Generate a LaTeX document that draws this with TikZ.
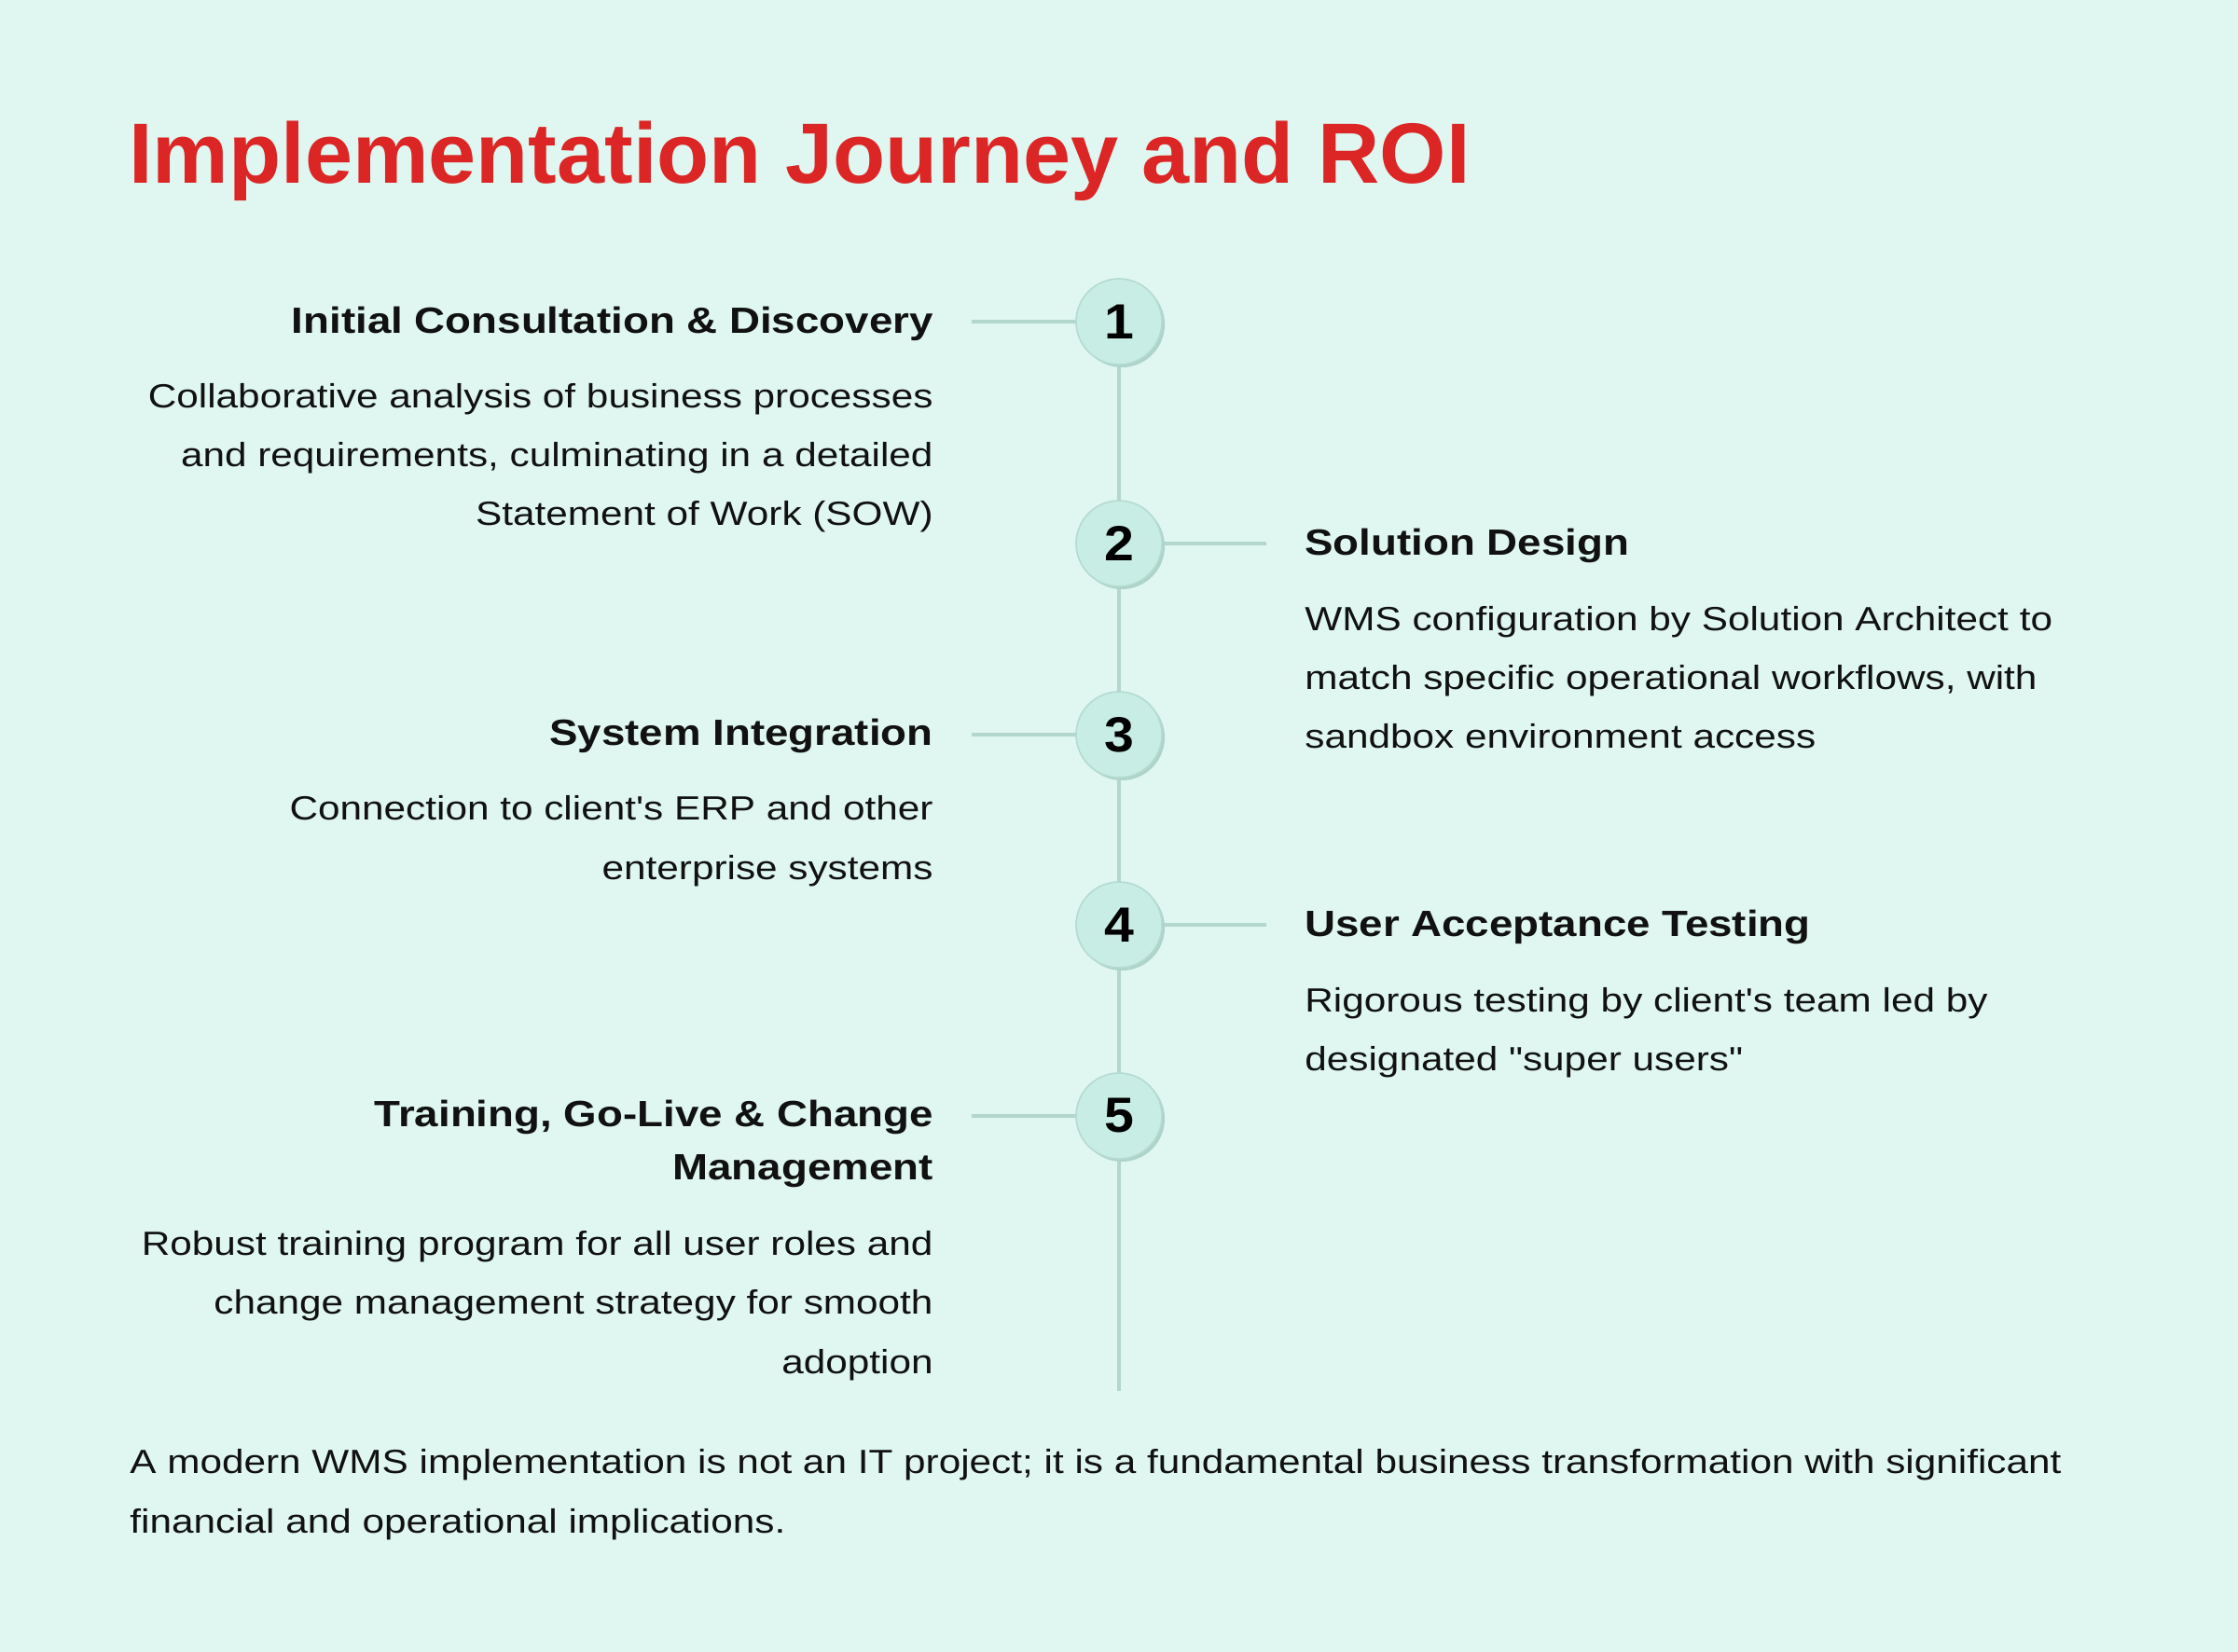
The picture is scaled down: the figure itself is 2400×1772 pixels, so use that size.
\documentclass[tikz,border=0pt]{standalone}
\usepackage{fontspec}
\setmainfont{Liberation Sans}
\newfontfamily\titlefont{Liberation Sans}
\newfontfamily\headfont{Liberation Sans}[FakeStretch=1.165]
\newfontfamily\bodyfont{Liberation Sans}[FakeStretch=1.175]
\newfontfamily\numfont{Liberation Sans}[FakeStretch=1.08]
\definecolor{bgmint}{HTML}{DFF7F0}
\definecolor{titlered}{HTML}{DC2626}
\definecolor{inkdark}{HTML}{111111}
\definecolor{linecol}{HTML}{B3D6CD}
\definecolor{circfill}{HTML}{C8EDE4}
\definecolor{circedge}{HTML}{B5DBD1}
\definecolor{circshadow}{HTML}{AED4CA}
\begin{document}
\begin{tikzpicture}[x=0.5pt,y=-0.5pt,
  titletext/.style={inner sep=0pt, anchor=base west, text=titlered, font=\titlefont\bfseries\fontsize{45.9}{55}\selectfont},
  headtext/.style={inner sep=0pt, text=inkdark, font=\headfont\bfseries\fontsize{19.6}{23}\selectfont},
  bodytext/.style={inner sep=0pt, text=inkdark, font=\bodyfont\fontsize{18}{22}\selectfont},
  foottext/.style={bodytext, anchor=base west},
  stepcircle/.style={circle, minimum size=46pt, inner sep=0pt, fill=circfill, draw=circedge, line width=0.8pt,
    text=black, font=\numfont\bfseries\fontsize{26.5}{30}\selectfont},
  shadowcircle/.style={circle, minimum size=46pt, inner sep=0pt, fill=circshadow},
  connector/.style={draw=linecol, line width=2pt}
]
\fill[bgmint] (0,0) rectangle (2400,1772);
\useasboundingbox (0,0) rectangle (2400,1772);

% title
\node[titletext] (title) at (138,196) {Implementation Journey and ROI};

% circle positions
\coordinate (p1) at (1200,345);
\coordinate (p2) at (1200,583);
\coordinate (p3) at (1200,788);
\coordinate (p4) at (1200,992);
\coordinate (p5) at (1200,1197);
\coordinate (vend) at (1200,1492);
\coordinate (l1) at (1042,345);
\coordinate (r2) at (1358,583);
\coordinate (l3) at (1042,788);
\coordinate (r4) at (1358,992);
\coordinate (l5) at (1042,1197);

% connectors
\draw[connector] (p1) -- (p2) -- (p3) -- (p4) -- (p5) -- (vend);
\draw[connector] (l1) -- (p1);
\draw[connector] (p2) -- (r2);
\draw[connector] (l3) -- (p3);
\draw[connector] (p4) -- (r4);
\draw[connector] (l5) -- (p5);

% circles
\foreach \n in {1,...,5} {
  \node[shadowcircle] (s\n) at ([shift={(3,3)}]p\n) {};
  \node[stepcircle] (c\n) at (p\n) {\n};
}

% step 1 (left)
\node[headtext, anchor=base east] (h1) at (1001,357) {Initial Consultation \& Discovery};
\node[bodytext, anchor=base east] (b1a) at (1001,437) {Collaborative analysis of business processes};
\node[bodytext, anchor=base east] (b1b) at (1001,500) {and requirements, culminating in a detailed};
\node[bodytext, anchor=base east] (b1c) at (1001,563) {Statement of Work (SOW)};

% step 2 (right)
\node[headtext, anchor=base west] (h2) at (1399,595) {Solution Design};
\node[bodytext, anchor=base west] (b2a) at (1399,676) {WMS configuration by Solution Architect to};
\node[bodytext, anchor=base west] (b2b) at (1399,739) {match specific operational workflows, with};
\node[bodytext, anchor=base west] (b2c) at (1399,802) {sandbox environment access};

% step 3 (left)
\node[headtext, anchor=base east] (h3) at (1001,799) {System Integration};
\node[bodytext, anchor=base east] (b3a) at (1001,879) {Connection to client's ERP and other};
\node[bodytext, anchor=base east] (b3b) at (1001,943) {enterprise systems};

% step 4 (right)
\node[headtext, anchor=base west] (h4) at (1399,1004) {User Acceptance Testing};
\node[bodytext, anchor=base west] (b4a) at (1399,1085) {Rigorous testing by client's team led by};
\node[bodytext, anchor=base west] (b4b) at (1399,1148) {designated "super users"};

% step 5 (left)
\node[headtext, anchor=base east] (h5a) at (1001,1208) {Training, Go-Live \& Change};
\node[headtext, anchor=base east] (h5b) at (1001,1265) {Management};
\node[bodytext, anchor=base east] (b5a) at (1001,1346) {Robust training program for all user roles and};
\node[bodytext, anchor=base east] (b5b) at (1001,1409) {change management strategy for smooth};
\node[bodytext, anchor=base east] (b5c) at (1001,1473) {adoption};

% footer
\node[foottext] (f1) at (139,1580) {A modern WMS implementation is not an IT project; it is a fundamental business transformation with significant};
\node[foottext] (f2) at (139,1644) {financial and operational implications.};
\end{tikzpicture}
\end{document}
